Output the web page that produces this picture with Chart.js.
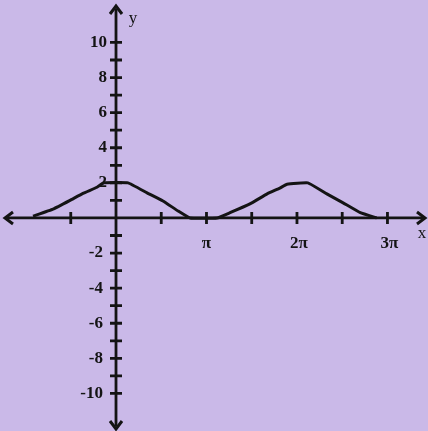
<!DOCTYPE html>
<html>
<head>
<meta charset="utf-8">
<script src="https://cdn.jsdelivr.net/npm/chart.js@4/dist/chart.umd.min.js"></script>
<style>
  html, body { margin: 0; padding: 0; background: #cab9e8; }
  #wrap { width: 428px; height: 431px; }
</style>
</head>
<body>
<div id="wrap"><canvas id="c" width="428" height="431"></canvas></div>
<script>
// x values are in units of pi
const curveX = [-0.917, -0.696, -0.508, -0.365, -0.21, -0.133, 0.133, 0.343, 0.519, 0.685, 0.818, 1.116, 1.26, 1.48, 1.67, 1.81, 1.89, 2.12, 2.33, 2.51, 2.70, 2.88];
const curveY = [0.1, 0.5, 1.0, 1.4, 1.75, 2.0, 2.0, 1.43, 0.97, 0.4, 0.0, 0.0, 0.3, 0.8, 1.37, 1.7, 1.92, 2.0, 1.37, 0.86, 0.3, 0.0];
const xTickValues = [-0.5, 0.5, 1, 1.5, 2, 2.5, 3];
const xTickLabels = { 1: 'π', 2: '2π', 3: '3π' };
const yTickValues = [-10, -9, -8, -7, -6, -5, -4, -3, -2, -1, 1, 2, 3, 4, 5, 6, 7, 8, 9, 10];
const yTickLabels = [10, 8, 6, 4, 2, -2, -4, -6, -8, -10];
const xRange = [-1.282, 3.448];
const yRange = [-12.14, 12.42];

const ink = '#141414';
const font = 'bold 17px "Liberation Serif", "DejaVu Serif", serif';

const axesPlugin = {
  id: 'axesPlugin',
  beforeDatasetsDraw(chart) {
    const { ctx, scales: { x, y } } = chart;
    const x0 = x.getPixelForValue(0), y0 = y.getPixelForValue(0);
    ctx.save();
    ctx.strokeStyle = ink; ctx.fillStyle = ink;
    ctx.lineWidth = 2.8; ctx.lineCap = 'butt';
    ctx.beginPath();
    ctx.moveTo(7, y0); ctx.lineTo(423, y0);
    ctx.moveTo(x0, 9); ctx.lineTo(x0, 426);
    ctx.stroke();
    ctx.lineWidth = 3; ctx.lineJoin = 'miter';
    ctx.beginPath();
    ctx.moveTo(13, y0 - 6); ctx.lineTo(5, y0); ctx.lineTo(13, y0 + 6);
    ctx.moveTo(417, y0 - 6); ctx.lineTo(425, y0); ctx.lineTo(417, y0 + 6);
    ctx.moveTo(x0 - 6, 14); ctx.lineTo(x0, 6); ctx.lineTo(x0 + 6, 14);
    ctx.moveTo(x0 - 6, 421); ctx.lineTo(x0, 429); ctx.lineTo(x0 + 6, 421);
    ctx.stroke();
    ctx.lineWidth = 2.8;
    ctx.beginPath();
    yTickValues.forEach(v => {
      const py = y.getPixelForValue(v);
      ctx.moveTo(x0 - 6, py); ctx.lineTo(x0 + 6, py);
    });
    xTickValues.forEach(v => {
      const px = x.getPixelForValue(v);
      ctx.moveTo(px, y0 - 6); ctx.lineTo(px, y0 + 6);
    });
    ctx.stroke();
    ctx.font = font;
    ctx.textBaseline = 'middle';
    ctx.textAlign = 'right';
    yTickLabels.forEach(v => {
      const py = y.getPixelForValue(v);
      ctx.fillText(String(v), v > 0 ? x0 - 9 : x0 - 13, py);
    });
    ctx.textAlign = 'center';
    Object.keys(xTickLabels).forEach(k => {
      const px = x.getPixelForValue(Number(k));
      ctx.fillText(xTickLabels[k], px + (k === '1' ? 0 : 2), y0 + 26);
    });
    ctx.font = '17px "Liberation Serif", serif';
    ctx.fillText('y', x0 + 17, 19);
    ctx.fillText('x', 422, y0 + 16);
    ctx.restore();
  }
};

new Chart(document.getElementById('c'), {
  type: 'line',
  data: {
    datasets: [{
      data: curveX.map((v, i) => ({ x: v, y: curveY[i] })),
      borderColor: ink,
      borderWidth: 3,
      pointRadius: 0,
      tension: 0.1,
      fill: false
    }]
  },
  options: {
    responsive: false,
    animation: false,
    layout: { padding: 0 },
    plugins: { legend: { display: false }, tooltip: { enabled: false } },
    scales: {
      x: { type: 'linear', min: xRange[0], max: xRange[1], display: false },
      y: { type: 'linear', min: yRange[0], max: yRange[1], display: false }
    }
  },
  plugins: [axesPlugin]
});
</script>
</body>
</html>
